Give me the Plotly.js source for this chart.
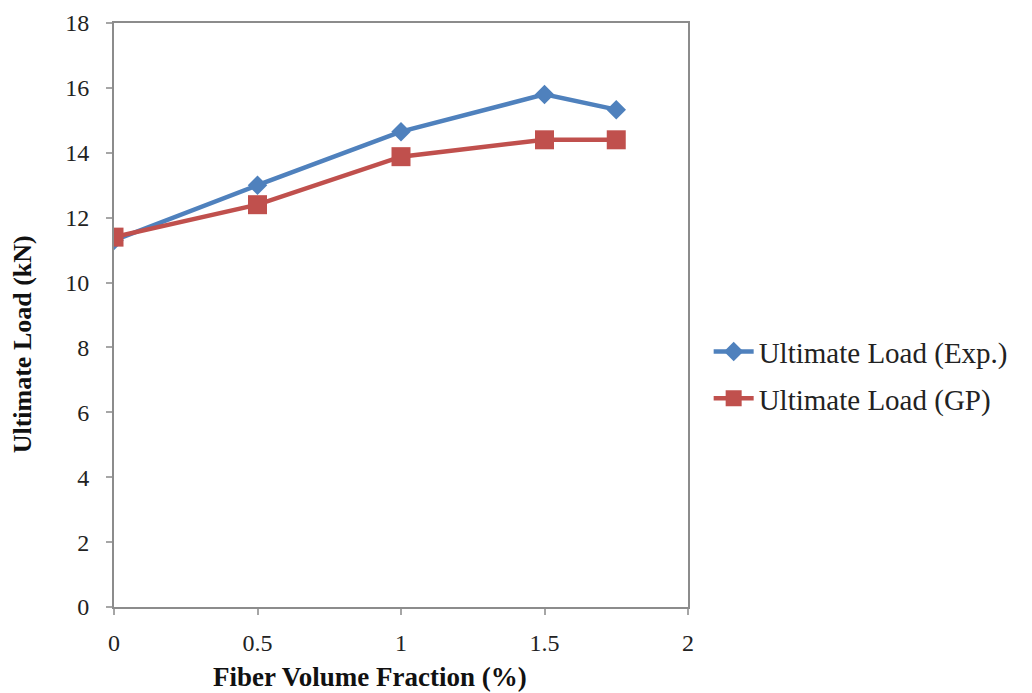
<!DOCTYPE html>
<html>
<head>
<meta charset="utf-8">
<script src="https://cdn.plot.ly/plotly-3.0.1.min.js"></script>
<style>
  html, body { margin: 0; padding: 0; background: #ffffff; }
  #chart { width: 1032px; height: 693px; }
</style>
</head>
<body>
<div id="chart"></div>
<script>
// Fiber volume fraction (%) and ultimate load (kN)
const fiberFraction = [0, 0.5, 1.0, 1.5, 1.75];
const loadExp = [11.3, 13.0, 14.65, 15.8, 15.33];
const loadGP = [11.4, 12.4, 13.88, 14.4, 14.4];
const seriesNames = ['Ultimate Load (Exp.)', 'Ultimate Load (GP)'];
const xTicks = [0, 0.5, 1, 1.5, 2];
const yTicks = [0, 2, 4, 6, 8, 10, 12, 14, 16, 18];
const xTitle = 'Fiber Volume Fraction (%)';
const yTitle = 'Ultimate Load (kN)';

const serif = 'Liberation Serif, Times New Roman, serif';

const traces = [
  {
    x: fiberFraction, y: loadExp, name: seriesNames[0], legendgroup: 'exp',
    type: 'scatter', mode: 'lines+markers',
    line: { color: '#4F81BD', width: 4.5 },
    marker: { symbol: 'diamond', size: 15, color: '#4F81BD' }
  },
  {
    x: fiberFraction, y: loadGP, name: seriesNames[1], legendgroup: 'gp',
    type: 'scatter', mode: 'lines+markers',
    line: { color: '#C0504D', width: 4.5 },
    marker: { symbol: 'square', size: 19, color: '#C0504D' }
  }
];

const axisCommon = {
  showgrid: false, zeroline: false,
  showline: true, linecolor: '#8c8c8c', linewidth: 2, mirror: true,
  ticks: 'outside', ticklen: 6, tickwidth: 2, tickcolor: '#a6a6a6',
  tickfont: { family: serif, size: 24, color: '#222222' }
};

const layout = {
  width: 1032, height: 693,
  paper_bgcolor: '#ffffff', plot_bgcolor: '#ffffff',
  margin: { l: 114, r: 344, t: 23, b: 86 },
  showlegend: true,
  legend: {
    x: 1.036, xanchor: 'left', y: 0.397, yanchor: 'middle',
    bgcolor: 'rgba(0,0,0,0)',
    font: { family: serif, size: 29, color: '#222222' },
    itemwidth: 40, tracegroupgap: 6
  },
  xaxis: Object.assign({}, axisCommon, {
    range: [0, 2], tickvals: xTicks, ticktext: xTicks.map(String),
    ticklabelstandoff: 7
  }),
  yaxis: Object.assign({}, axisCommon, {
    range: [0, 18], tickvals: yTicks, ticktext: yTicks.map(String),
    ticklabelstandoff: 12
  }),
  annotations: [
    {
      text: '<b>' + xTitle + '</b>', xref: 'paper', yref: 'paper',
      x: 0.446, y: -0.09, xanchor: 'center', yanchor: 'top', showarrow: false,
      font: { family: serif, size: 27, color: '#111111' }
    },
    {
      text: '<b>' + yTitle + '</b>', xref: 'paper', yref: 'paper',
      x: -0.16, y: 0.45, xanchor: 'center', yanchor: 'middle', showarrow: false,
      textangle: -90,
      font: { family: serif, size: 26, color: '#111111' }
    }
  ]
};

Plotly.newPlot('chart', traces, layout, { displayModeBar: false, staticPlot: true });
</script>
</body>
</html>
